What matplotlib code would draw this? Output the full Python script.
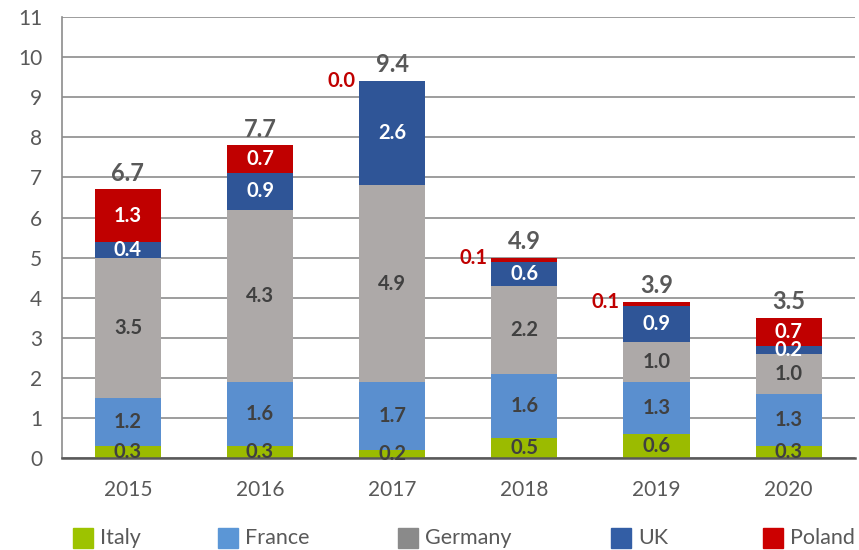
import numpy as np
import matplotlib.pyplot as plt
from matplotlib.patches import Rectangle

# data
years = ["2015", "2016", "2017", "2018", "2019", "2020"]
italy = [0.3, 0.3, 0.2, 0.5, 0.6, 0.3]
france = [1.2, 1.6, 1.7, 1.6, 1.3, 1.3]
germany = [3.5, 4.3, 4.9, 2.2, 1.0, 1.0]
uk = [0.4, 0.9, 2.6, 0.6, 0.9, 0.2]
poland = [1.3, 0.7, 0.0, 0.1, 0.1, 0.7]
totals = [6.7, 7.7, 9.4, 4.9, 3.9, 3.5]

# name, values, bar colour, label colour, legend swatch colour
series = [
    ("Italy", italy, "#9BBB00", "#404040", "#9DC300"),
    ("France", france, "#5A8FCF", "#404040", "#5B96D6"),
    ("Germany", germany, "#ADA9A8", "#404040", "#8A8A8A"),
    ("UK", uk, "#2F5597", "white", "#335EA5"),
    ("Poland", poland, "#C00000", "white", "#CC0000"),
]
# legend swatch left edges in pixels (Excel spaces them unevenly)
legend_x_px = [73, 218, 398, 611, 763]

plt.rcParams["font.family"] = ["Lato", "DejaVu Sans"]

W, H = 859, 550
fig = plt.figure(figsize=(W / 100, H / 100), dpi=100)
ax = fig.add_axes([0.072, 0.167, 0.923, 0.802])

x = np.arange(len(years))
bottom = np.zeros(len(years))
width = 0.5
for name, vals, col, tcol, _ in series:
    vals = np.array(vals)
    ax.bar(x, vals, width, bottom=bottom, color=col, zorder=2)
    for i, v in enumerate(vals):
        if v < 0.15:
            # tiny segment: label sits to the left of the bar top
            ax.text(x[i] - width / 2 - 0.03, bottom[i] + v + 0.0, f"{v:.1f}",
                    ha="right", va="center", color="#C00000",
                    fontsize=14.5, fontweight="bold")
        else:
            ax.text(x[i], bottom[i] + v / 2, f"{v:.1f}", ha="center", va="center",
                    color=tcol, fontsize=14.5, fontweight="bold")
    bottom += vals

for i, t in enumerate(totals):
    ax.text(x[i], bottom[i] + 0.12, f"{t:.1f}", ha="center", va="bottom",
            color="#595959", fontsize=17, fontweight="bold")

ax.set_xlim(-0.5, 5.5)
ax.set_ylim(0, 11)
ax.set_yticks(range(0, 12))
ax.set_xticks(x)
ax.set_xticklabels(years)
ax.tick_params(axis="both", length=0, labelsize=15, colors="#595959")
ax.tick_params(axis="y", pad=14)
ax.tick_params(axis="x", pad=16)
ax.grid(axis="y", color="#8C8C8C", linewidth=1.2, zorder=0)
for s in ["top", "right"]:
    ax.spines[s].set_visible(False)
ax.spines["left"].set_color("#8C8C8C")
ax.spines["left"].set_linewidth(1.2)
ax.spines["bottom"].set_color("#595959")
ax.spines["bottom"].set_linewidth(1.8)

# legend drawn by hand along the bottom
ly = 1 - 538 / H
sw, sh = 20 / W, 20 / H
for (name, _, _, _, lc), px in zip(series, legend_x_px):
    fig.add_artist(Rectangle((px / W, ly - sh / 2), sw, sh, color=lc,
                             transform=fig.transFigure))
    fig.text((px + 27) / W, ly, name, ha="left", va="center",
             fontsize=15.5, color="#595959")

fig.savefig("out.png", dpi=100)
